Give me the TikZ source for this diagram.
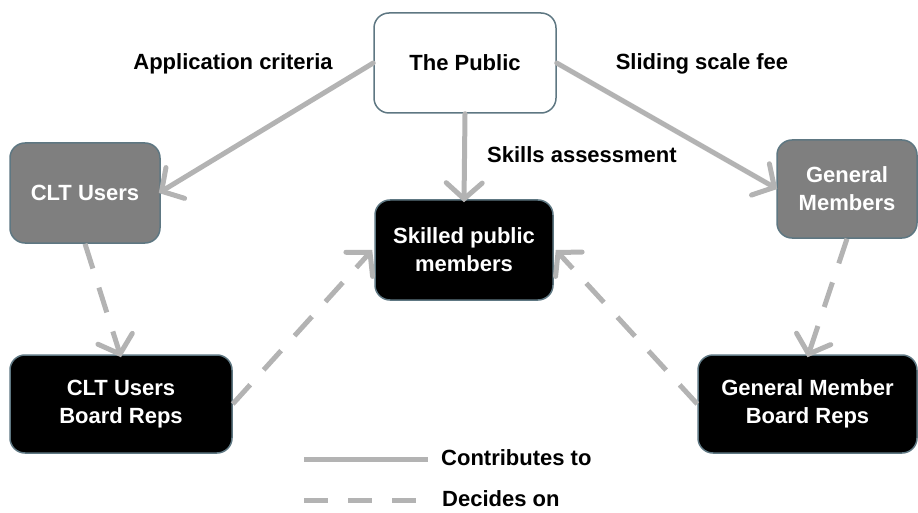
\documentclass[tikz,border=0pt]{standalone}
\usepackage{fontspec}
\setmainfont{Liberation Sans}
\usetikzlibrary{arrows.meta}
\definecolor{arrowgray}{HTML}{B3B3B3}
\definecolor{boxgray}{HTML}{7F7F7F}
\definecolor{edgeslate}{HTML}{5E7782}
\begin{document}
\begin{tikzpicture}[x=1pt,y=-1pt,
  every node/.style={font=\fontsize{22}{28}\selectfont\bfseries, align=center, inner sep=0pt},
  boxbase/.style={draw=edgeslate, line width=1.5pt, rounded corners=15pt},
  whitebox/.style={boxbase, fill=white, text=black},
  graybox/.style={boxbase, fill=boxgray, text=white},
  blackbox/.style={boxbase, fill=black, text=white},
  flow/.style={draw=arrowgray, line width=5pt, line cap=round,
    -{Straight Barb[length=16pt, width=36pt, line width=5pt, line cap=round]}},
  decide/.style={flow, dash pattern=on 26pt off 20pt, line cap=butt},
  lbl/.style={text=black}
]
\useasboundingbox (0,0) rectangle (918,513);

\node[whitebox, minimum width=182pt, minimum height=100pt] (pub) at (465,63) {The Public};
\node[graybox, minimum width=150pt, minimum height=100pt] (clt) at (85,193) {CLT Users};
\node[graybox, minimum width=140pt, minimum height=98pt] (gen) at (847,189) {General\\Members};
\node[blackbox, minimum width=178pt, minimum height=100pt] (sk) at (464,250) {Skilled public\\members};
\node[blackbox, minimum width=222pt, minimum height=98pt] (cltb) at (121,404) {CLT Users\\Board Reps};
\node[blackbox, minimum width=219pt, minimum height=98pt] (genb) at (807.5,404) {General Member\\Board Reps};

\draw[flow] (pub.west) -- ([xshift=-2pt]clt.east);
\draw[flow] (pub.south) -- ([yshift=-3pt]sk.north);
\draw[flow] (pub.east) -- ([xshift=1pt]gen.west);

\draw[decide] (clt.south) -- ([yshift=-3pt]cltb.north);
\draw[decide] (cltb.east) -- ([xshift=-2pt]sk.west);
\draw[decide] (genb.west) -- ([xshift=2pt]sk.east);
\draw[decide] (gen.south) -- ([yshift=-3pt]genb.north);

\node[lbl] (appl) at (233,64) {Application criteria};
\node[lbl] (slide) at (702,64) {Sliding scale fee};
\node[lbl, anchor=west] (skill) at (487,155) {Skills assessment};

\coordinate (l1a) at (304,459);
\coordinate (l1b) at (428,459);
\coordinate (l2a) at (304,500);
\coordinate (l2b) at (420,500);
\draw[draw=arrowgray, line width=5pt] (l1a) -- (l1b);
\draw[draw=arrowgray, line width=5pt, dash pattern=on 24pt off 20pt] (l2a) -- (l2b);
\node[lbl, anchor=west] (contrib) at (441,458) {Contributes to};
\node[lbl, anchor=west] (decides) at (442,499) {Decides on};
\end{tikzpicture}
\end{document}
